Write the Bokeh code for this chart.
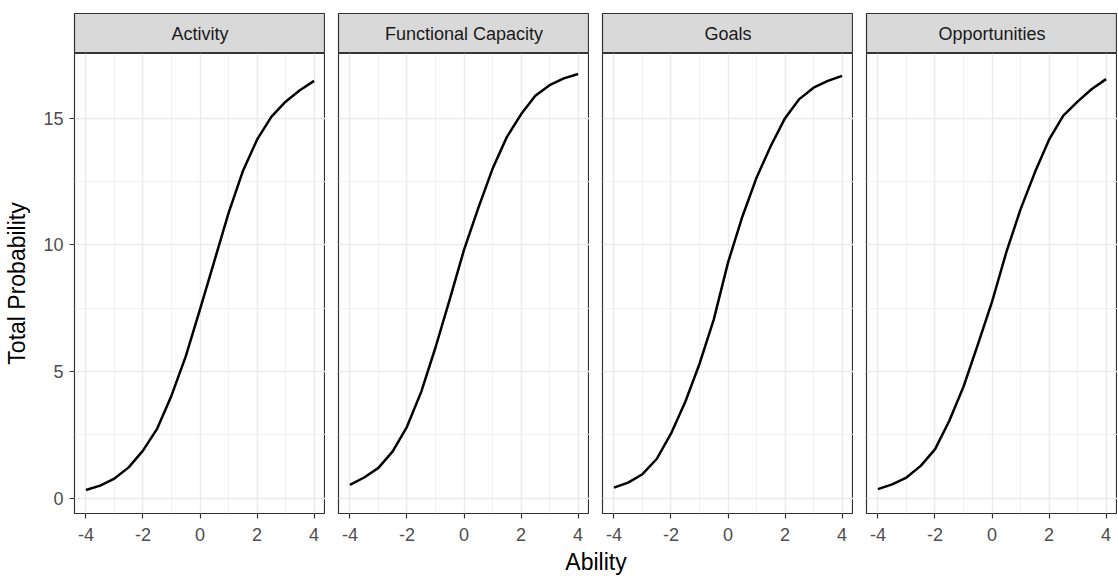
from bokeh.plotting import figure
from bokeh.layouts import column, row
from bokeh.models import Range1d, FixedTicker, Label
from bokeh.embed import file_html
from bokeh.resources import INLINE

# ---------------- data ----------------
ability = [-4.0, -3.5, -3.0, -2.5, -2.0, -1.5, -1.0, -0.5, 0.0,
           0.5, 1.0, 1.5, 2.0, 2.5, 3.0, 3.5, 4.0]
panels = ["Activity", "Functional Capacity", "Goals", "Opportunities"]
activity = [0.33, 0.50, 0.78, 1.22, 1.88, 2.75, 4.05, 5.60, 7.45,
            9.35, 11.25, 12.90, 14.15, 15.05, 15.65, 16.10, 16.47]
functional_capacity = [0.53, 0.82, 1.20, 1.85, 2.82, 4.20, 5.95, 7.85, 9.80,
                       11.45, 13.00, 14.25, 15.15, 15.88, 16.30, 16.57, 16.74]
goals = [0.42, 0.62, 0.95, 1.55, 2.55, 3.80, 5.30, 7.05, 9.30,
         11.10, 12.65, 13.90, 15.00, 15.75, 16.20, 16.47, 16.67]
opportunities = [0.36, 0.55, 0.82, 1.28, 1.93, 3.05, 4.40, 6.05, 7.75,
                 9.70, 11.40, 12.85, 14.15, 15.10, 15.65, 16.15, 16.54]
series = [activity, functional_capacity, goals, opportunities]

x_ticks = [-4, -2, 0, 2, 4]
x_tick_labels = ["-4", "-2", "0", "2", "4"]
x_minor = [-3, -1, 1, 3]
y_ticks = [0, 5, 10, 15]
y_tick_labels = ["0", "5", "10", "15"]
y_minor = [2.5, 7.5, 12.5]
x_label = "Ability"
y_label = "Total Probability"

# ---------------- layout constants ----------------
FONT = "Liberation Sans"
LEFT = 74
GAP = 13
FRAME_W = 251
STRIP_TOP = 13
STRIP_H = 40
FRAME_H = 460
BOTTOM = 35
LABEL_H = 29
X_LIM = (-4.4, 4.4)
Y_LIM = (-0.6, 17.55)

strips = []
plots = []
for i, (name, vals) in enumerate(zip(panels, series)):
    left = LEFT if i == 0 else GAP

    # strip header
    s = figure(width=left + FRAME_W, height=STRIP_TOP + STRIP_H,
               x_range=Range1d(0, 1), y_range=Range1d(0, 1),
               x_axis_location=None, y_axis_location=None,
               toolbar_location=None, output_backend="svg",
               min_border_left=left, min_border_right=0,
               min_border_top=STRIP_TOP, min_border_bottom=0)
    s.grid.visible = False
    s.background_fill_color = "#D9D9D9"
    s.outline_line_color = "#333333"
    s.outline_line_width = 1.2
    s.add_layout(Label(x=0.5, y=0.5, text=name, text_align="center",
                       text_baseline="middle", text_font=FONT,
                       text_font_size="18px", text_color="#1A1A1A"))
    strips.append(s)

    # panel
    p = figure(width=left + FRAME_W, height=FRAME_H + BOTTOM,
               x_range=Range1d(*X_LIM), y_range=Range1d(*Y_LIM),
               y_axis_location="left" if i == 0 else None,
               toolbar_location=None, output_backend="svg",
               min_border_left=left, min_border_right=0,
               min_border_top=0, min_border_bottom=BOTTOM)
    p.background_fill_color = "white"
    p.outline_line_color = "#333333"
    p.outline_line_width = 1.2

    p.xgrid.ticker = FixedTicker(ticks=x_ticks, minor_ticks=x_minor)
    p.ygrid.ticker = FixedTicker(ticks=y_ticks, minor_ticks=y_minor)
    for g in (p.xgrid, p.ygrid):
        g.grid_line_color = "#EBEBEB"
        g.grid_line_width = 1.5
        g.minor_grid_line_color = "#EEEEEE"
        g.minor_grid_line_width = 0.8

    p.line(ability, vals, line_color="black", line_width=2.5,
           line_join="round")

    ax = p.xaxis[0]
    ax.ticker = FixedTicker(ticks=x_ticks)
    ax.major_label_overrides = {t: l for t, l in zip(x_ticks, x_tick_labels)}
    ax.axis_line_color = None
    ax.major_tick_line_color = "#333333"
    ax.major_tick_line_width = 1.2
    ax.major_tick_in = 0
    ax.major_tick_out = 5
    ax.minor_tick_line_color = None
    ax.major_label_text_font = FONT
    ax.major_label_text_font_size = "18px"
    ax.major_label_text_color = "#4D4D4D"
    ax.major_label_standoff = 9

    if i == 0:
        ay = p.yaxis[0]
        ay.ticker = FixedTicker(ticks=y_ticks)
        ay.major_label_overrides = {t: l for t, l in zip(y_ticks, y_tick_labels)}
        ay.axis_line_color = None
        ay.major_tick_line_color = "#333333"
        ay.major_tick_line_width = 1.2
        ay.major_tick_in = 0
        ay.major_tick_out = 5
        ay.minor_tick_line_color = None
        ay.major_label_text_font = FONT
        ay.major_label_text_font_size = "18px"
        ay.major_label_text_color = "#4D4D4D"
        ay.major_label_standoff = 6
        ay.axis_label = y_label
        ay.axis_label_text_font = FONT
        ay.axis_label_text_font_size = "23px"
        ay.axis_label_text_font_style = "normal"
        ay.axis_label_text_color = "black"
        ay.axis_label_standoff = 10
    plots.append(p)

# shared x-axis title
total_w = LEFT + 4 * FRAME_W + 3 * GAP
lab = figure(width=total_w, height=LABEL_H,
             x_range=Range1d(0, 1), y_range=Range1d(0, 1),
             x_axis_location=None, y_axis_location=None,
             toolbar_location=None, output_backend="svg",
             min_border_left=LEFT, min_border_right=0,
             min_border_top=0, min_border_bottom=0)
lab.grid.visible = False
lab.outline_line_color = None
lab.add_layout(Label(x=0.5, y=0.5, text=x_label, text_align="center",
                     text_baseline="middle", text_font=FONT,
                     text_font_size="23px", text_color="black", y_offset=1))

layout = column(row(*strips), row(*plots), lab)

with open("out.html", "w") as f:
    f.write(file_html(layout, INLINE))
